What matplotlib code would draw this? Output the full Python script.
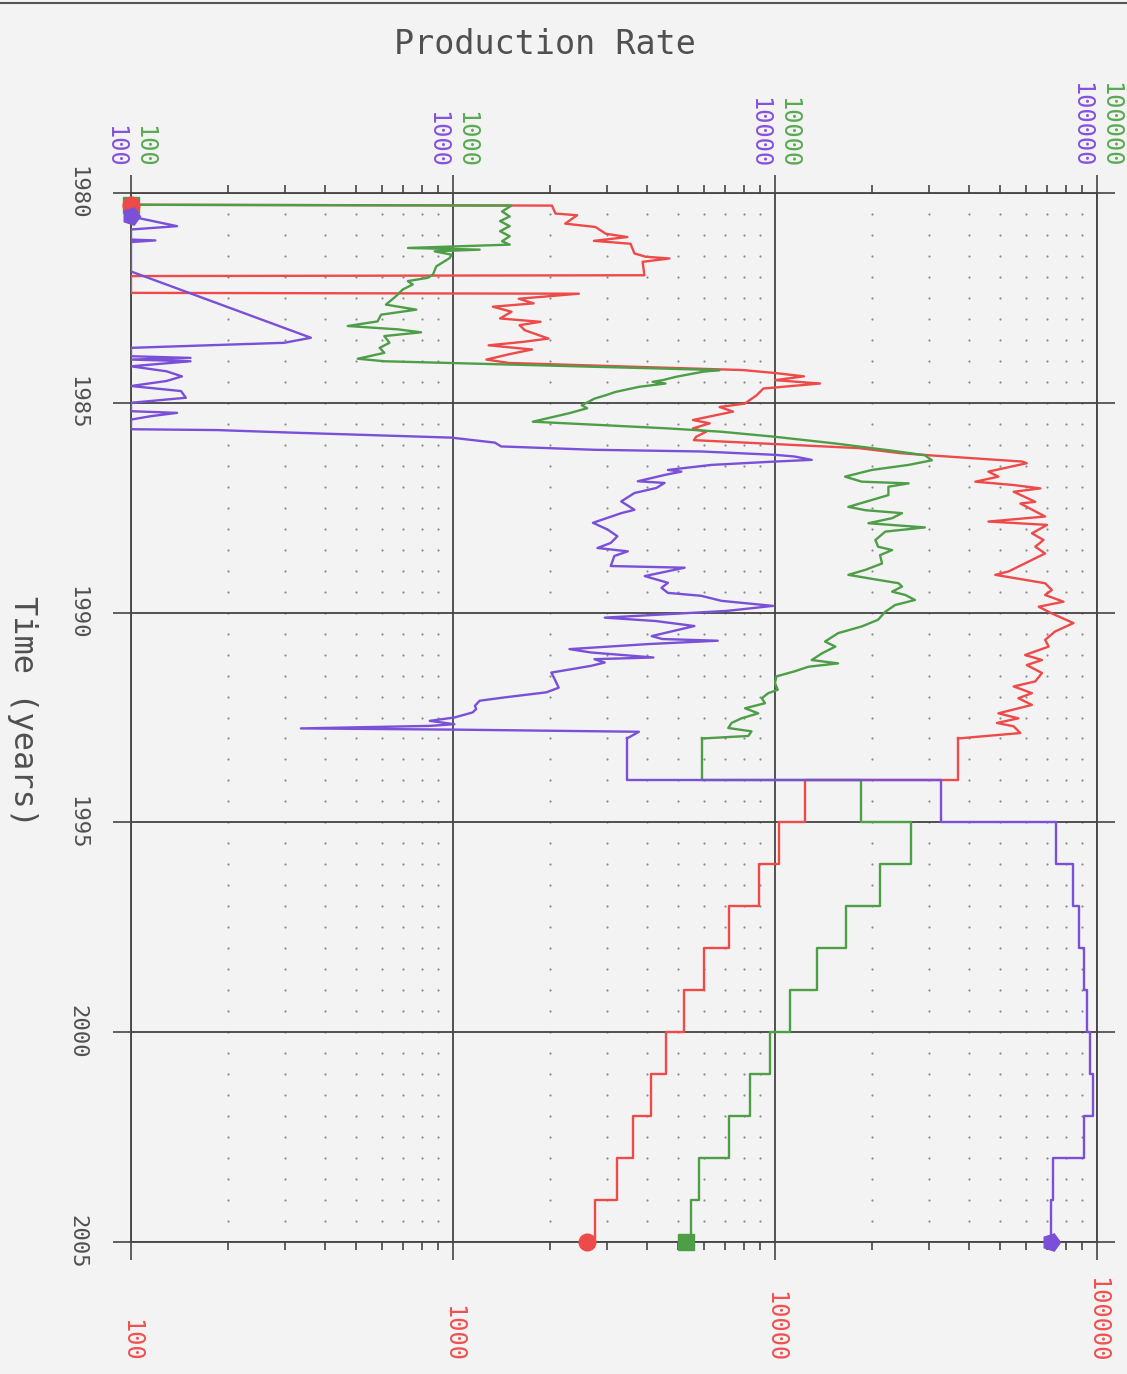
"""
Production rate history + forecast, plotted sideways (time runs down the page)
"""
import matplotlib.pyplot as plt
import matplotlib.transforms as mtransforms
from matplotlib.lines import Line2D
import numpy as np

# ---- history (decimal year, rate) ----
red_t = [1980.28, 1980.30, 1980.49, 1980.53, 1980.73, 1980.81, 1980.97, 1981.05, 1981.14, 1981.21,
         1981.44, 1981.52, 1981.56, 1981.64, 1981.96, 1981.98, 1982.38, 1982.40, 1982.52, 1982.63,
         1982.71, 1982.83, 1982.99, 1983.07, 1983.15, 1983.27, 1983.47, 1983.55, 1983.63, 1983.73,
         1983.83, 1983.97, 1984.05, 1984.22, 1984.29, 1984.37, 1984.46, 1984.54, 1984.66, 1984.82,
         1985.02, 1985.10, 1985.21, 1985.41, 1985.49, 1985.61, 1985.69, 1985.81, 1985.89, 1986.08,
         1986.20, 1986.25, 1986.40, 1986.44, 1986.64, 1986.76, 1986.88, 1986.96, 1987.04, 1987.12,
         1987.36, 1987.40, 1987.71, 1987.83, 1987.91, 1988.11, 1988.27, 1988.43, 1988.59, 1989.02,
         1989.10, 1989.30, 1989.46, 1989.58, 1989.74, 1989.86, 1990.02, 1990.25, 1990.45, 1990.65,
         1990.81, 1991.01, 1991.13, 1991.25, 1991.44, 1991.64, 1991.76, 1991.92, 1992.04, 1992.20,
         1992.40, 1992.52, 1992.63, 1992.71, 1992.87]
red_v = [100, 2030, 2080, 2430, 2230, 2770, 2980, 3480, 2740, 3560,
         3660, 3970, 4700, 3880, 3930, 100, 100, 2460, 1600, 1780,
         1330, 1520, 1400, 1870, 1610, 1670, 1980, 1640, 1290, 1760,
         1520, 1270, 1490, 7960, 10000, 12300, 10000, 13800, 9200, 8770,
         8050, 6730, 7410, 5560, 6270, 5560, 6110, 5690, 5600, 18200,
         24500, 30000, 58500, 60500, 46000, 49400, 41900, 55100, 66700, 55100,
         64300, 57800, 69000, 46000, 70000, 62800, 68200, 64300, 69000, 53100,
         48300, 69000, 72400, 69000, 78700, 65900, 72400, 84500, 74100, 69000,
         70800, 59800, 67500, 60500, 67500, 64300, 55100, 62800, 57000, 62800,
         49400, 57000, 48900, 55100, 57800]

green_t = [1980.28, 1980.30, 1980.44, 1980.56, 1980.67, 1980.79, 1980.91, 1981.03, 1981.15, 1981.23,
           1981.31, 1981.35, 1981.39, 1981.47, 1981.55, 1981.75, 1981.94, 1982.02, 1982.10, 1982.18,
           1982.30, 1982.46, 1982.66, 1982.78, 1982.90, 1983.06, 1983.17, 1983.25, 1983.32, 1983.41,
           1983.57, 1983.69, 1983.81, 1983.95, 1984.01, 1984.22, 1984.26, 1984.38, 1984.46, 1984.50,
           1984.54, 1984.62, 1984.74, 1984.82, 1984.90, 1985.06, 1985.13, 1985.25, 1985.45, 1985.53,
           1985.61, 1985.69, 1985.81, 1985.97, 1986.13, 1986.25, 1986.37, 1986.48, 1986.60, 1986.76,
           1986.88, 1986.92, 1987.00, 1987.20, 1987.48, 1987.56, 1987.63, 1987.75, 1987.87, 1987.97,
           1988.07, 1988.27, 1988.43, 1988.51, 1988.63, 1988.83, 1988.98, 1989.10, 1989.22, 1989.30,
           1989.38, 1989.50, 1989.58, 1989.70, 1989.82, 1989.98, 1990.17, 1990.33, 1990.49, 1990.69,
           1990.81, 1990.97, 1991.13, 1991.21, 1991.29, 1991.40, 1991.52, 1991.68, 1991.84, 1991.92,
           1992.04, 1992.16, 1992.28, 1992.40, 1992.52, 1992.63, 1992.75, 1992.83, 1992.94]
green_v = [100, 1520, 1420, 1500, 1400, 1500, 1400, 1500, 1420, 1500,
           725, 1210, 877, 989, 977, 887, 867, 836, 724, 750,
           698, 665, 619, 769, 598, 583, 471, 675, 796, 612,
           635, 592, 612, 506, 612, 6730, 5970, 4930, 4480, 4170,
           4570, 3780, 3200, 2980, 2750, 2510, 2610, 2290, 1770, 2880,
           4650, 6820, 10000, 15400, 22500, 29200, 30700, 26000, 20000, 16500,
           18600, 26000, 22500, 22500, 16900, 19100, 24800, 23100, 19500, 29200,
           22000, 20500, 20900, 23100, 21200, 21500, 19100, 16900, 20900, 24200,
           24800, 23100, 25400, 27200, 23600, 22000, 20900, 18600, 15700, 14300,
           15400, 14000, 13000, 15700, 12700, 11500, 10100, 10000, 10200, 9530,
           9100, 9310, 8070, 8870, 7870, 7330, 7160, 8450, 8260]

purple_t = [1980.56, 1980.79, 1980.87, 1981.11, 1981.13, 1981.17, 1981.87, 1983.45, 1983.57, 1983.69,
            1983.89, 1983.93, 1983.97, 1984.01, 1984.13, 1984.25, 1984.37, 1984.48, 1984.60, 1984.72,
            1984.88, 1985.00, 1985.20, 1985.24, 1985.32, 1985.40, 1985.63, 1985.65, 1985.71, 1985.83,
            1985.95, 1986.04, 1986.12, 1986.16, 1986.24, 1986.28, 1986.36, 1986.40, 1986.48, 1986.60,
            1986.64, 1986.72, 1986.87, 1986.91, 1987.03, 1987.15, 1987.35, 1987.55, 1987.63, 1987.86,
            1988.02, 1988.18, 1988.34, 1988.46, 1988.54, 1988.65, 1988.89, 1988.93, 1989.13, 1989.29,
            1989.41, 1989.53, 1989.60, 1989.72, 1989.84, 1989.96, 1990.12, 1990.20, 1990.32, 1990.56,
            1990.63, 1990.67, 1990.75, 1990.87, 1990.95, 1991.07, 1991.11, 1991.19, 1991.27, 1991.43,
            1991.59, 1991.79, 1991.90, 1992.02, 1992.10, 1992.22, 1992.30, 1992.38, 1992.50, 1992.58,
            1992.66, 1992.70, 1992.76, 1992.79, 1992.84]
purple_v = [100, 139, 100, 100, 119, 100, 100, 362, 299, 100,
            100, 153, 100, 153, 100, 129, 144, 129, 100, 143,
            148, 100, 100, 139, 115, 100, 100, 185, 313, 989,
            1350, 1410, 2750, 5900, 10000, 11500, 13000, 10000, 6350, 4650,
            5120, 4540, 3750, 4540, 4280, 3660, 3330, 3660, 3330, 2720,
            3020, 3240, 3090, 2810, 3490, 3170, 3090, 5240, 3940, 4650,
            4440, 4650, 5900, 6820, 9860, 7080, 2960, 4250, 5620, 4140,
            4470, 6640, 4040, 2300, 2680, 4190, 2750, 2960, 2680, 2020,
            2070, 2130, 1950, 1450, 1210, 1170, 1180, 1150, 1010, 847,
            1010, 847, 337, 1040, 3780]

# ---- forecast, one value per year (last entry is the 2005 end point) ----
fc_years = [1993, 1994, 1995, 1996, 1997, 1998, 1999, 2000, 2001, 2002, 2003, 2004, 2005]
red_fc = [37000, 12400, 10300, 8950, 7190, 6030, 5200, 4600, 4110, 3610, 3240, 2770, 2610]
green_fc = [5930, 18500, 26400, 21200, 16600, 13500, 11100, 9620, 8360, 7190, 5810, 5500, 5300]
purple_fc = [3470, 32700, 74600, 84500, 87700, 90800, 93300, 95100, 97200, 90800, 72800, 72100, 72100]

decade_ticks = [100, 1000, 10000, 100000]
decade_labels = ['100', '1000', '10000', '100000']
year_ticks = [1980, 1985, 1990, 1995, 2000, 2005]

RED = '#ee4a4a'
GREEN = '#4e9e48'
PURPLE = '#7a50d8'
GRID = '#454545'
BG = '#f3f3f3'
FONT = 'DejaVu Sans Mono'
PENT = (5, 0, -90)  # pentagon pointing right

fig = plt.figure(figsize=(11.27, 13.74), dpi=100, facecolor=BG)
ax = fig.add_axes([131 / 1127, 1 - 1242 / 1374, 966 / 1127, 1049 / 1374], facecolor=BG)

# rate runs across, time runs down
ax.set_xscale('log')
ax.set_xlim(100, 100000)
ax.set_ylim(2005, 1980)

# minor dot grid
minor_x = [m * 10 ** d for d in (2, 3, 4) for m in range(2, 10)]
half_years = np.arange(1980.5, 2005, 0.5)
mx, my = np.meshgrid(minor_x, half_years)
ax.scatter(mx.ravel(), my.ravel(), s=2.5, color='#8a8a8a', lw=0, zorder=1)

ax.set_xticks(decade_ticks)
ax.set_yticks(year_ticks)
ax.grid(which='major', color=GRID, lw=1.3, zorder=2)
ax.tick_params(which='both', direction='out', colors=GRID, width=1.2,
               top=True, bottom=True, left=True, right=True,
               labelbottom=False, labeltop=False, labelleft=False, labelright=False)
ax.tick_params(which='major', length=13)
ax.tick_params(which='minor', length=6)
ax.tick_params(axis='y', which='minor', left=False, right=False)
for sp in ax.spines.values():
    sp.set_color(GRID)
    sp.set_linewidth(1.3)

series = [(red_t, red_v, red_fc, RED),
          (green_t, green_v, green_fc, GREEN),
          (purple_t, purple_v, purple_fc, PURPLE)]
for t, v, fc, col in series:
    ax.plot(v + [fc[0]], t + [fc_years[0]], color=col, lw=1.7, zorder=4)
    ax.plot(fc, fc_years, color=col, lw=1.7, drawstyle='steps-pre', zorder=4)

# start / end markers
ax.plot(green_v[0], green_t[0], 's', color=GREEN, ms=12, clip_on=False, zorder=5)
ax.plot(red_v[0], red_t[0], 'o', color=RED, ms=12, clip_on=False, zorder=6)
ax.plot(purple_v[0], purple_t[0], marker=PENT, color=PURPLE, ms=13, clip_on=False, zorder=6)
ax.plot(red_fc[-1], fc_years[-1], 'o', color=RED, ms=12, clip_on=False, zorder=6)
ax.plot(green_fc[-1], fc_years[-1], 's', color=GREEN, ms=12, clip_on=False, zorder=6)
ax.plot(purple_fc[-1], fc_years[-1], marker=PENT, color=PURPLE, ms=13, clip_on=False, zorder=6)

# rate labels: purple + green above, red below
xt = ax.get_xaxis_transform()
tp = mtransforms.offset_copy(xt, fig=fig, x=-16, y=25, units='dots')
tg = mtransforms.offset_copy(xt, fig=fig, x=13, y=25, units='dots')
for val, lab in zip(decade_ticks, decade_labels):
    ax.text(val, 1, lab, transform=tp, rotation=-90, ha='center', va='bottom',
            color='#8652dc', fontsize=17, family=FONT, clip_on=False)
    ax.text(val, 1, lab, transform=tg, rotation=-90, ha='center', va='bottom',
            color='#58aa52', fontsize=17, family=FONT, clip_on=False)
    ax.text(val, -0.1144, lab, transform=xt, rotation=-90, ha='center', va='bottom',
            color='#f05050', fontsize=17, family=FONT, clip_on=False)

yt = ax.get_yaxis_transform()
for yr in year_ticks:
    ax.text(-0.055, yr, str(yr), transform=yt, rotation=-90, ha='center', va='center',
            color='#505050', fontsize=16, family=FONT, clip_on=False)

fig.text(545 / 1127, 1 - 45 / 1374, 'Production Rate', ha='center', va='center',
         fontsize=24, family=FONT, color='#505050')
fig.text(22 / 1127, 1 - 712 / 1374, 'Time (years)', rotation=-90, ha='center', va='center',
         fontsize=23, family=FONT, color='#505050')

# rule across the top of the page
fig.add_artist(Line2D([0, 1], [1 - 3 / 1374] * 2, transform=fig.transFigure, color='#555555', lw=1.5))

fig.savefig('out.png', dpi=100, facecolor=BG)
